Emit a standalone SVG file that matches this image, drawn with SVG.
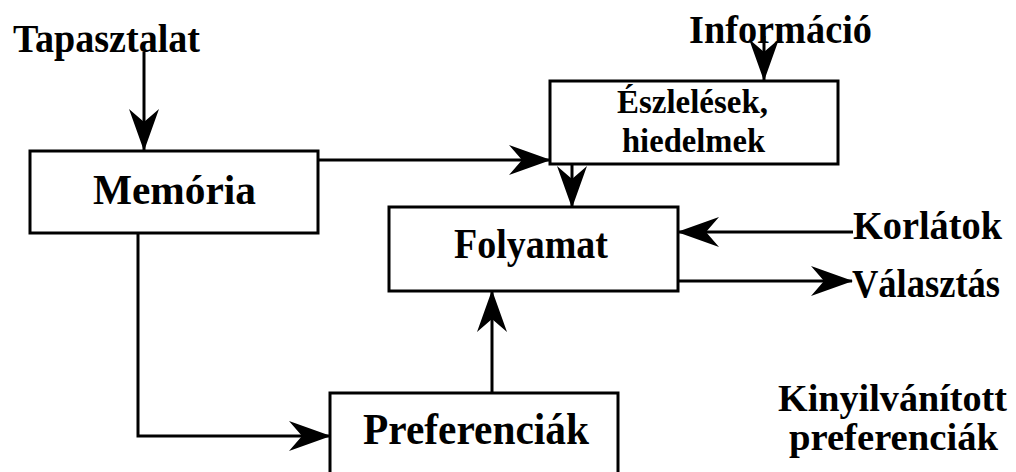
<svg xmlns="http://www.w3.org/2000/svg" width="1016" height="472" viewBox="0 0 1016 472">
<style>
.box{fill:#fff;stroke:#000;stroke-width:3}
.t{font-family:"Liberation Serif","Times New Roman",serif;font-weight:bold;fill:#000}
.c{stroke:#000;stroke-width:3;fill:none;marker-end:url(#ah)}
</style>
<defs>
<marker id="ah" markerUnits="userSpaceOnUse" viewBox="0 0 42 30" refX="41" refY="15" markerWidth="42" markerHeight="30" orient="auto">
<path d="M42,15 L0,0 L13,15 L0,30 Z" fill="#000"/>
</marker>
</defs>
<rect width="1016" height="472" fill="#fff"/>
<g id="connectors">
<path class="c" d="M144,52 V150"/>
<path class="c" d="M318,160 H550"/>
<path class="c" d="M764,36 V80"/>
<path class="c" d="M572,164 V207"/>
<path class="c" d="M853,232 H678"/>
<path class="c" d="M678,281 H852"/>
<path class="c" d="M138,233 V436 H330"/>
<path class="c" d="M492,393 V291"/>
</g>
<g id="memoria">
<rect class="box" x="30" y="151" width="288" height="82"/>
<text class="t" x="93" y="204" font-size="43" textLength="163" lengthAdjust="spacingAndGlyphs">Memória</text>
</g>
<g id="eszlelesek">
<rect class="box" x="550" y="81" width="288" height="83"/>
<text class="t" x="617" y="113" font-size="33" textLength="151" lengthAdjust="spacingAndGlyphs">Észlelések,</text>
<text class="t" x="622" y="152" font-size="33" textLength="143" lengthAdjust="spacingAndGlyphs">hiedelmek</text>
</g>
<g id="folyamat">
<rect class="box" x="389" y="207" width="289" height="84"/>
<text class="t" x="454" y="258" font-size="42" textLength="154" lengthAdjust="spacingAndGlyphs">Folyamat</text>
</g>
<g id="preferenciak">
<rect class="box" x="330" y="393" width="288" height="100"/>
<text class="t" x="363" y="444" font-size="44" textLength="226" lengthAdjust="spacingAndGlyphs">Preferenciák</text>
</g>
<g id="labels">
<text class="t" x="13" y="52" font-size="40" textLength="187" lengthAdjust="spacingAndGlyphs">Tapasztalat</text>
<text class="t" x="689" y="43" font-size="39" textLength="183" lengthAdjust="spacingAndGlyphs">Információ</text>
<text class="t" x="853" y="239" font-size="40" textLength="149" lengthAdjust="spacingAndGlyphs">Korlátok</text>
<text class="t" x="852" y="297" font-size="39" textLength="148" lengthAdjust="spacingAndGlyphs">Választás</text>
<text class="t" x="778" y="411" font-size="38" textLength="229" lengthAdjust="spacingAndGlyphs">Kinyilvánított</text>
<text class="t" x="789" y="450" font-size="38" textLength="209" lengthAdjust="spacingAndGlyphs">preferenciák</text>
</g>
</svg>
